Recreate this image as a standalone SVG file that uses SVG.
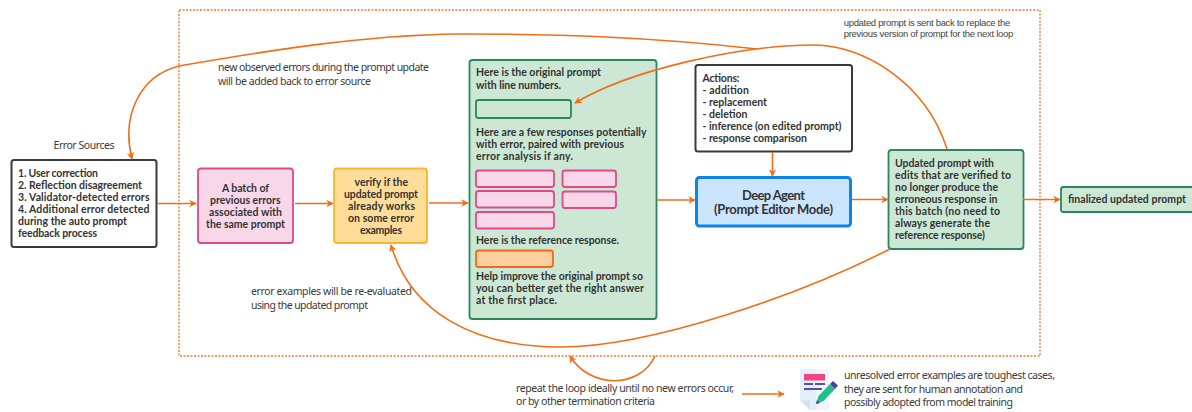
<svg xmlns="http://www.w3.org/2000/svg" width="1192" height="412" viewBox="0 0 1192 412">
<style>
text{font-family:"Lato","Noto Sans",sans-serif;font-size:10.5px;font-weight:700;fill:#333}
.l{font-family:"Noto Sans","Open Sans",sans-serif;font-weight:400;font-size:10.5px;fill:#3a3a3a}
.a{font-family:"Liberation Sans",Arial,sans-serif;font-weight:400;font-size:9.5px;fill:#444}
.big{font-size:13px;font-weight:700}
rect{stroke-width:1.8}
.dark{fill:#fff;stroke:#3a3a3a;stroke-width:2}
.pink{fill:#f8d7e8;stroke:#e0488a}
.yel{fill:#ffdd99;stroke:#fdb52a}
.grn{fill:#cce8d5;stroke:#2a8560}
.org{fill:#ffcf9f;stroke:#f26a12}
.blu{fill:#cce5ff;stroke:#0a84ee;stroke-width:3}
.cn{fill:none;stroke:#f26d17;stroke-width:1.6}
</style>
<defs>
<marker id="ah" viewBox="0 0 10 10" refX="9" refY="5" markerWidth="7.5" markerHeight="7.5" markerUnits="userSpaceOnUse" orient="auto"><path d="M0 0 L10 5 L0 10 L3 5Z" fill="#f26d17"/></marker>
</defs>
<rect id="loop-boundary" x="179" y="10" width="861" height="346" fill="none" stroke="#f79a60" stroke-width="1" stroke-dasharray="2 1.5"/>
<g id="error-sources-label"><text class="l" x="53.5" y="149" textLength="61">Error Sources</text></g>
<g id="error-sources">
<rect class="dark" x="11.5" y="160" width="145" height="87" rx="2.5"/>
<text x="18" y="177" textLength="80">1. User correction</text>
<text x="18" y="189" textLength="124">2. Reflection disagreement</text>
<text x="18" y="201" textLength="131.5">3. Validator-detected errors</text>
<text x="18" y="213" textLength="131.5">4. Additional error detected</text>
<text x="18" y="225" textLength="109">during the auto prompt</text>
<text x="18" y="237" textLength="79">feedback process</text>
</g>
<g id="batch">
<rect class="pink" x="198" y="168.5" width="95" height="74.5" rx="3"/>
<text x="222" y="191.5" textLength="47">A batch of</text>
<text x="210" y="203.5" textLength="70.5">previous errors</text>
<text x="209" y="215.5" textLength="73">associated with</text>
<text x="206" y="227.5" textLength="79">the same prompt</text>
</g>
<g id="verify">
<rect class="yel" x="334" y="168.5" width="93" height="74.5" rx="3"/>
<text x="354.5" y="185.5" textLength="53.5">verify if the</text>
<text x="344" y="197.5" textLength="74">updated prompt</text>
<text x="348" y="209.5" textLength="67">already works</text>
<text x="348" y="221.5" textLength="66">on some error</text>
<text x="360" y="233.5" textLength="42">examples</text>
</g>
<g id="prompt-template">
<rect class="grn" x="469.5" y="60" width="187" height="259" rx="3"/>
<text x="476" y="76" textLength="125">Here is the original prompt</text>
<text x="476" y="88.5" textLength="85">with line numbers.</text>
<rect class="grn" x="476" y="100" width="95" height="18" rx="2.5"/>
<text x="476" y="136" textLength="170.5">Here are a few responses potentially</text>
<text x="476" y="148" textLength="148">with error, paired with previous</text>
<text x="476" y="160" textLength="97">error analysis if any.</text>
<rect class="pink" x="476" y="170.5" width="78" height="16.5" rx="2.5"/>
<rect class="pink" x="562.5" y="170.5" width="53.5" height="16.5" rx="2.5"/>
<rect class="pink" x="476" y="191" width="78" height="16.5" rx="2.5"/>
<rect class="pink" x="562.5" y="191.5" width="53.5" height="16.5" rx="2.5"/>
<rect class="pink" x="476" y="212" width="78" height="16.5" rx="2.5"/>
<text x="476" y="243.5" textLength="143">Here is the reference response.</text>
<rect class="org" x="476" y="250.5" width="77" height="16.5" rx="2.5"/>
<text x="476" y="280" textLength="167">Help improve the original prompt so</text>
<text x="476" y="292" textLength="168">you can better get the right answer</text>
<text x="476" y="304" textLength="81">at the first place.</text>
</g>
<g id="actions">
<rect class="dark" x="695.5" y="65" width="156.5" height="86.5" rx="2.5"/>
<text x="702.5" y="82" textLength="37">Actions:</text>
<text x="702.5" y="93.5" textLength="46.5">- addition</text>
<text x="702.5" y="105.5" textLength="64.5">- replacement</text>
<text x="702.5" y="117.5" textLength="45">- deletion</text>
<text x="702.5" y="129.5" textLength="139">- inference (on edited prompt)</text>
<text x="702.5" y="141.5" textLength="104.5">- response comparison</text>
</g>
<g id="deep-agent">
<rect class="blu" x="696.5" y="177.5" width="154" height="48.5" rx="3"/>
<text class="big" x="742" y="199.5" textLength="63">Deep Agent</text>
<text class="big" x="714" y="214" textLength="119">(Prompt Editor Mode)</text>
</g>
<g id="updated-prompt">
<rect class="grn" x="888.5" y="150" width="135" height="99" rx="3"/>
<text x="895" y="166.5" textLength="99">Updated prompt with</text>
<text x="895" y="178.5" textLength="116">edits that are verified to</text>
<text x="895" y="190.5" textLength="103">no longer produce the</text>
<text x="895" y="202.5" textLength="102.5">erroneous response in</text>
<text x="895" y="214.5" textLength="105">this batch (no need to</text>
<text x="895" y="226.5" textLength="95">always generate the</text>
<text x="895" y="238.5" textLength="90">reference response)</text>
</g>
<g id="finalized">
<rect class="grn" x="1061" y="187" width="135" height="25" rx="2.5"/>
<text x="1068" y="202.5" textLength="118">finalized updated prompt</text>
</g>
<g id="connectors">
<path class="cn" marker-end="url(#ah)" d="M157 203.5H196"/>
<path class="cn" marker-end="url(#ah)" d="M295 203.5H333"/>
<path class="cn" marker-end="url(#ah)" d="M429 203H468"/>
<path class="cn" marker-end="url(#ah)" d="M657 200H695"/>
<path class="cn" marker-end="url(#ah)" d="M852 199.5H888"/>
<path class="cn" marker-end="url(#ah)" d="M1023 199.5H1060"/>
<path class="cn" marker-end="url(#ah)" d="M772.5 152V176"/>
<path class="cn" marker-end="url(#ah)" d="M947 149C925 80 860 45 815 45C740 45 630 70 575 103"/>
<path class="cn" marker-end="url(#ah)" d="M757 49C650 37 560 34 460 34C360 35 260 52 179 66C140 76 121 115 132 159"/>
<path class="cn" marker-end="url(#ah)" d="M890 249C800 295 650 347 561 347C470 347 410 310 391 245"/>
<path class="cn" marker-end="url(#ah)" d="M655 356C640 389 590 389 570 356"/>
<path class="cn" marker-end="url(#ah)" d="M742 394H784"/>
</g>
<g id="labels">
<text class="l" x="218" y="71" textLength="211">new observed errors during the prompt update</text>
<text class="l" x="218" y="84.5" textLength="153">will be added back to error source</text>
<text class="l" x="251" y="295" textLength="161">error examples will be re-evaluated</text>
<text class="l" x="251" y="308.5" textLength="117">using the updated prompt</text>
<text class="a" x="843.7" y="25.5" textLength="166.5">updated prompt is sent back to replace the</text>
<text class="a" x="843.7" y="37" textLength="169.5">previous version of prompt for the next loop</text>
<text class="l" x="516" y="391.5" textLength="218">repeat the loop ideally until no new errors occur,</text>
<text class="l" x="516" y="405" textLength="139">or by other termination criteria</text>
<text class="l" x="844" y="378.5" textLength="211">unresolved error examples are toughest cases,</text>
<text class="l" x="844" y="392.5" textLength="179">they are sent for human annotation and</text>
<text class="l" x="844" y="406" textLength="169">possibly adopted from model training</text>
</g>
<g id="annotation-icon">
<path d="M800 369H829V410H810L800 400Z" fill="#e3effb"/>
<path d="M816 369H829V410H816Z" fill="#eef5fd"/>
<path d="M800 400L810 401V410Z" fill="#cfe2f6"/>
<rect x="804" y="374" width="21" height="6.5" fill="#f0467e"/>
<rect x="804" y="383" width="9" height="2" fill="#5b4fa8"/>
<rect x="815" y="383" width="10" height="2" fill="#5b4fa8"/>
<rect x="804" y="388" width="18" height="2" fill="#5b4fa8"/>
<path d="M816 404L818.5 396L830 384L835 389L823.5 401Z" fill="#1fc08e"/>
<path d="M830 384L833 381L838 385.5L835 389Z" fill="#4a3f9e"/>
<path d="M816 404L817 400L820 403Z" fill="#4a3f9e"/>
</g>
</svg>
